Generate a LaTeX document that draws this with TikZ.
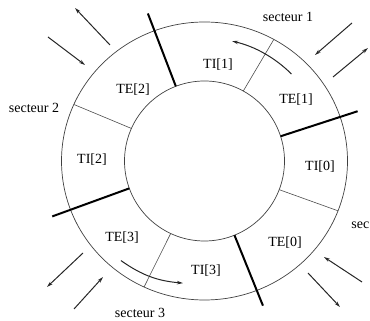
\documentclass[tikz,border=0pt]{standalone}
\usepackage{fontspec}
\setmainfont{Liberation Serif}
\usetikzlibrary{arrows.meta,calc}
\begin{document}
\begin{tikzpicture}[x=1pt,y=1pt,
  ring/.style={line width=0.7pt, draw=black!75},
  thinsep/.style={line width=0.6pt, draw=black!70},
  thicksep/.style={line width=2pt},
  flow/.style={line width=1pt, draw=black!85, -{Stealth[length=6pt,width=3.5pt]}},
  lab/.style={font=\fontsize{14}{16}\selectfont, inner sep=0pt}]
\useasboundingbox (0,0) rectangle (370,321);
\coordinate (C) at (204.5,160);
% rings
\draw[ring] (C) ellipse [x radius=143, y radius=139];
\draw[ring] (C) circle [radius=80];
% thin separators
\foreach \a in {61,156,245,339}
  \draw[thinsep] ($(C)+(\a:80)$) -- ($(C)+(\a:143 and 139)$);
% thick separators
\foreach \a/\r in {111/158,18/161,200/162,292/156}
  \draw[thicksep] ($(C)+(\a:80)$) -- ($(C)+(\a:\r)$);
% labels
\node[lab] (ti1) at (218,256) {TI[1]};
\node[lab] (te1) at (296,221) {TE[1]};
\node[lab] (te2) at (133,231) {TE[2]};
\node[lab] (ti2) at (92,161) {TI[2]};
\node[lab] (ti0) at (320,154) {TI[0]};
\node[lab] (te0) at (285,78) {TE[0]};
\node[lab] (ti3) at (206,50) {TI[3]};
\node[lab] (te3) at (122,83) {TE[3]};
\node[lab] (s1) at (288,304) {secteur 1};
\node[lab] (s2) at (34,213) {secteur 2};
\node[lab, anchor=south] (s3) at (140,3.5) {secteur 3};
\node[lab, anchor=east] (s0) at (369.5,96) {sec};
% inner circulating arrows
\draw[flow] ($(C)+(45:123)$) arc [start angle=45, end angle=77, radius=123];
\coordinate (b1) at ($(C)+(230:130)$);
\coordinate (b2) at ($(C)+(260:124)$);
\draw[flow] (b1) to[bend right=15] (b2);
% outer arrows
\coordinate (tl1a) at (110,276); \coordinate (tl1b) at (75,313);
\coordinate (tl2a) at (48,284);  \coordinate (tl2b) at (85,256);
\coordinate (tr1a) at (352,298); \coordinate (tr1b) at (315,266);
\coordinate (tr2a) at (333,244); \coordinate (tr2b) at (368,273);
\coordinate (bl1a) at (83,68);   \coordinate (bl1b) at (47,34);
\coordinate (bl2a) at (74,12);   \coordinate (bl2b) at (103,44);
\coordinate (br1a) at (362,39);  \coordinate (br1b) at (324,64);
\coordinate (br2a) at (308,48);  \coordinate (br2b) at (340,14);
\foreach \p in {tl1,tl2,tr1,tr2,bl1,bl2,br1,br2}
  \draw[flow] (\p a) -- (\p b);
\end{tikzpicture}
\end{document}
